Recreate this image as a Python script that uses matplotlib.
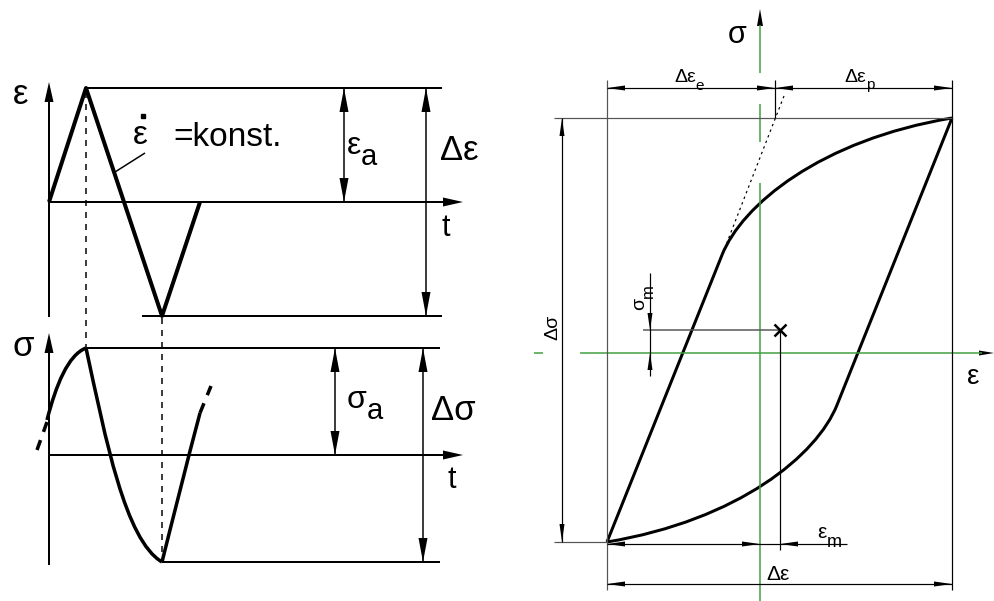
import matplotlib.pyplot as plt
import numpy as np
from matplotlib.path import Path
from matplotlib.patches import PathPatch, Polygon

plt.rcParams['font.family'] = ['Liberation Sans', 'DejaVu Sans']

PX = 0.72  # one pixel in points at dpi=100
GREEN = '#3f9f3f'
GREY = '#555555'

# strain-time path (triangle wave)
strain_t = [49, 86, 162, 200]
strain_v = [202, 88, 316, 202]

# stress-time response: rising, falling and re-rising bezier pieces
stress_up = [(47, 420), (56, 385), (68, 355), (86, 348)]
stress_down = [(86, 348), (106, 440), (125, 540), (162, 562)]
stress_rise = [(162, 562), (173, 518), (187, 462), (200, 413)]

# hysteresis loop: straight elastic part, then bezier to the reversal point
loop_upper = [(607, 542), (722, 255), (742, 205), (820, 140), (952, 118)]
loop_lower = [(952, 118), (837, 405), (817, 455), (739, 520), (607, 542)]
loop_mean = (780, 330)

fig = plt.figure(figsize=(9.94, 6.01), dpi=100)
ax = fig.add_axes([0, 0, 1, 1])
ax.set_xlim(0, 994)
ax.set_ylim(601, 0)
ax.axis('off')


def line(xs, ys, lw=1.5, color='k', **kw):
    ax.plot(xs, ys, color=color, lw=lw * PX, solid_capstyle='butt', **kw)


def head(tip, frm, length=20, half=4, color='k'):
    tip = np.array(tip, float)
    d = tip - np.array(frm, float)
    d /= np.hypot(*d)
    n = np.array([-d[1], d[0]])
    base = tip - length * d
    ax.add_patch(Polygon([tip, base + half * n, base - half * n],
                         closed=True, color=color, lw=0))


def dim(p, q, length=20, half=4, lw=1.5, color='k'):
    line([p[0], q[0]], [p[1], q[1]], lw=lw, color=color)
    head(p, q, length, half)
    head(q, p, length, half)


def bezier(pts, lw=3.5, start_line=False):
    if start_line:
        codes = [Path.MOVETO, Path.LINETO] + [Path.CURVE4] * 3
    else:
        codes = [Path.MOVETO] + [Path.CURVE4] * 3
    ax.add_patch(PathPatch(Path(pts, codes), fill=False, lw=lw * PX,
                           edgecolor='k', joinstyle='round'))


def label(x, y, main, sub=None, size=23, sub_size=None, drop=0.12):
    """Main symbol with an optional subscript placed just after it."""
    t = ax.text(x, y, main, fontsize=size, ha='left', va='center')
    if sub:
        ax.annotate(sub, xy=(1.0, drop), xycoords=t,
                    fontsize=sub_size or size, ha='left', va='center')
    return t


# ---------- strain vs time ----------
line([49, 49], [317, 95], lw=2)
head((49, 82), (49, 200), 20, 4.5)
line([49, 450], [202, 202], lw=2)
head((463, 202), (400, 202), 20, 4.5)
line(strain_t, strain_v, lw=4)
line([86, 442], [88, 88], lw=2)
line([142, 442], [316, 316], lw=2)
dim((344, 88), (344, 202), 24, 4.5)
dim((426, 88), (426, 316), 24, 4.5)
line([115, 145], [172, 153], lw=1.5)
line([86, 86], [92, 348], lw=1.5, linestyle=(0, (4, 4)))

label(13, 95, 'ε', size=25)
label(133, 136, 'ε', size=24)
ax.plot([143], [116], 's', color='k', ms=2.6)
ax.text(173, 137, '=konst.', fontsize=24, ha='left', va='center')
label(347, 146, 'ε', 'a', size=23, sub_size=21)
label(440, 151, 'Δε', size=25)
ax.text(446, 228, 't', fontsize=22, ha='center', va='center')

# ---------- stress vs time ----------
line([49, 49], [565, 345], lw=2)
head((49, 333), (49, 450), 20, 4.5)
line([49, 450], [455, 455], lw=2)
head((463, 455), (400, 455), 20, 4.5)
line([86, 440], [348, 348], lw=2)
line([162, 440], [562, 562], lw=2)
dim((335, 348), (335, 455), 24, 4.5)
dim((423, 348), (423, 562), 24, 4.5)
line([162, 162], [318, 560], lw=1.5, linestyle=(0, (4, 4)))

bezier(stress_up)
bezier(stress_down)
bezier(stress_rise)
line([37, 47], [450, 422], lw=3.5, linestyle=(0, (3, 2.5)))
line([200, 211], [413, 386], lw=3.5, linestyle=(0, (3, 2.5)))

label(12, 346, 'σ', size=25)
label(347, 400, 'σ', 'a', size=23, sub_size=21)
label(431, 411, 'Δσ', size=25)
ax.text(452, 480, 't', fontsize=22, ha='center', va='center')

# ---------- cyclic stress-strain loop ----------
for y0, y1 in [(25, 73), (104, 142), (183, 601)]:
    line([760, 760], [y0, y1], lw=1.5, color=GREEN)
head((760, 9), (760, 40), 17, 3)
for x0, x1 in [(534, 543), (580, 982)]:
    line([x0, x1], [353, 353], lw=1.5, color=GREEN)
head((994, 353), (900, 353), 15, 2.5)

line([607, 607], [80, 590], lw=1.2, color=GREY)
line([952, 952], [80, 590], lw=1.2)
line([554, 952], [118, 118], lw=1.2, color=GREY)
line([554, 607], [542, 542], lw=1.2, color=GREY)
dim((562, 118), (562, 542), 18, 2.5, lw=1.2)
line([775, 775], [80, 118], lw=1.2)
dim((607, 88), (775, 88), 18, 2.5, lw=1.2)
dim((775, 88), (952, 88), 18, 2.5, lw=1.2)
line([784, 726], [96, 245], lw=1.2, linestyle=(0, (2, 3)))

bezier(loop_upper, lw=3, start_line=True)
bezier(loop_lower, lw=3, start_line=True)

# mean stress and mean strain
line([643, loop_mean[0]], [loop_mean[1], loop_mean[1]], lw=1.5, color=GREY)
line([650, 650], [273, 376], lw=1.2)
head((650, 330), (650, 300), 17, 2.5)
head((650, 353), (650, 380), 17, 2.5)
ax.plot([loop_mean[0]], [loop_mean[1]], marker='x', color='k', ms=8,
        mew=1.8)
line([780, 780], [loop_mean[1], 550], lw=1.2)
line([607, 847], [544, 544], lw=1.2)
head((607, 544), (700, 544), 18, 2.5)
head((760, 544), (700, 544), 18, 2.5)
head((780, 544), (820, 544), 18, 2.5)
dim((607, 584), (952, 584), 18, 2.5, lw=1.2)

ax.text(737, 35, 'σ', fontsize=22, ha='center', va='center')
ax.text(973, 377, 'ε', fontsize=20, ha='center', va='center')
label(674, 77, 'Δε', 'e', size=14, sub_size=11, drop=0.0)
label(844, 77, 'Δε', 'p', size=14, sub_size=11, drop=0.0)
ax.text(553, 327, 'Δσ', fontsize=14, rotation=90, ha='center',
        va='center')
t_sm = ax.text(640, 310, 'σ', fontsize=14, rotation=90, ha='center',
               va='bottom')
ax.annotate('m', xy=(1.0, 1.0), xycoords=t_sm, fontsize=12, rotation=90,
            ha='center', va='bottom')
label(817, 533, 'ε', 'm', size=15, sub_size=13, drop=0.0)
ax.text(766, 574, 'Δε', fontsize=15, ha='left', va='center')

fig.savefig('out.png', dpi=100, facecolor='white')
